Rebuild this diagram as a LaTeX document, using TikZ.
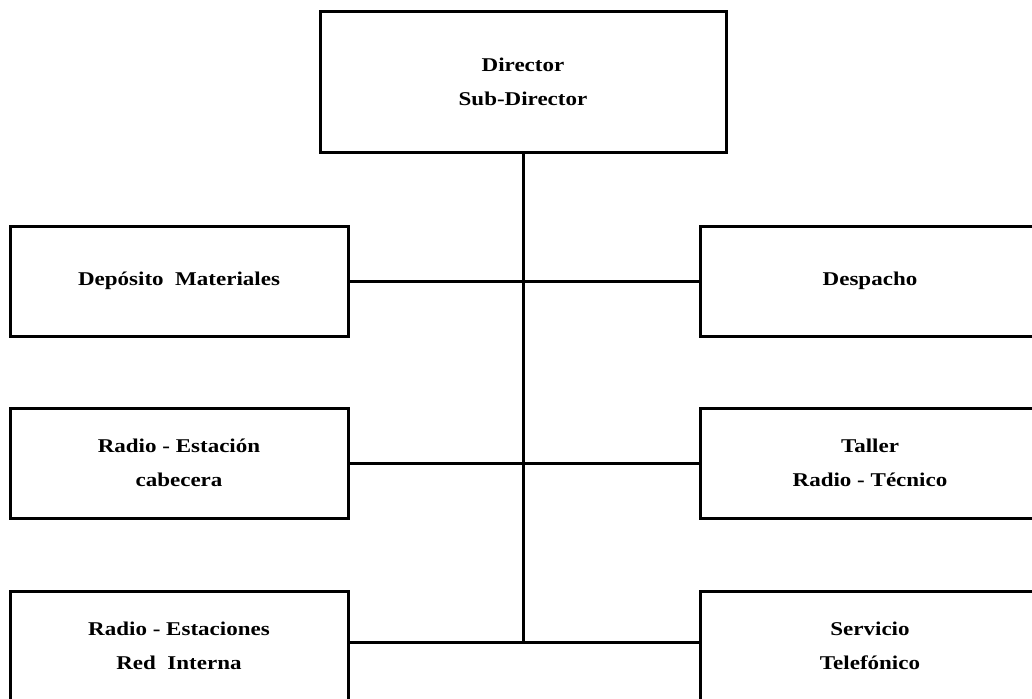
\documentclass[tikz,border=0pt]{standalone}
\usepackage{fontspec}
\setmainfont[FakeStretch=1.18]{Liberation Serif}
\begin{document}
\begin{tikzpicture}[x=1pt,y=-1pt,
  box/.style={draw,line width=3pt,rectangle,inner sep=0pt,align=center,
    font=\fontsize{19.5}{34}\selectfont\bfseries},
  sidebox/.style={box,minimum width=338pt,minimum height=110pt},
  topbox/.style={box,minimum width=406pt,minimum height=140pt},
  link/.style={line width=3pt}]
\useasboundingbox (0,0) rectangle (1032,698);
\clip (0,0) rectangle (1032,698);
\node[topbox] (dir) at (523,82) {Director\\Sub-Director};
\node[sidebox] (dep) at (179,281) {Depósito\ \ Materiales};
\node[sidebox] (rec) at (179,463) {Radio - Estación\\cabecera};
\node[sidebox] (rri) at (179,646) {Radio - Estaciones\\Red\ \ Interna};
\node[sidebox,minimum width=340pt] (des) at (870,281) {Despacho};
\node[sidebox,minimum width=340pt] (tal) at (870,463) {Taller\\Radio - Técnico};
\node[sidebox,minimum width=340pt] (tel) at (870,646) {Servicio\\Telefónico};
\coordinate (j3) at (dir.south |- 0,642);
\draw[link] (dir.south) -- (j3);
\draw[link] (dep.east) -- (des.west);
\draw[link] (rec.east) -- (tal.west);
\draw[link] (rri.east |- j3) -- (tel.west |- j3);
\end{tikzpicture}
\end{document}
